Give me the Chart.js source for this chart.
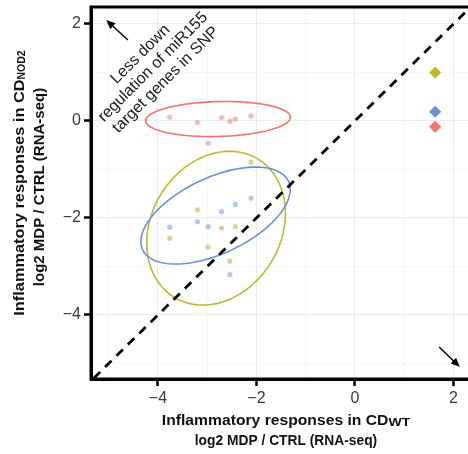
<!DOCTYPE html>
<html>
<head>
<meta charset="utf-8">
<script src="https://cdn.jsdelivr.net/npm/chart.js@4"></script>
<style>
  html, body { margin: 0; padding: 0; background: #fff; overflow: hidden; }
  #wrap { width: 490px; height: 454px; }
</style>
</head>
<body>
<div id="wrap"><canvas id="inflamChart" width="490" height="454"></canvas></div>
<script>
// log2 MDP / CTRL, one value per gene, WT on x and NOD2 on y
const geneX   = [-3.76, -3.20, -2.98, -2.71, -2.54, -2.43, -2.11];
const redY    = [0.08, -0.03, -0.46, 0.07, -0.01, 0.04, 0.10];
const greenY  = [-2.42, -1.83, -2.60, -2.21, -2.89, -2.18, -0.85];
const blueY   = [-2.19, -2.08, -2.18, -1.87, -3.17, -1.72, -1.59];

// group summary markers (diamonds)
const summaryX = [1.63, 1.63, 1.63];
const summaryY = [1.00, 0.19, -0.12];   // green, blue, red

// confidence ellipses: [centerX, centerY, semiMajor, semiMinor, angleDeg]
const redEllipse   = [-2.78, 0.04, 1.47, 0.36, 1.5];
const blueEllipse  = [-2.83, -1.95, 1.64, 0.78, 25.7];
const greenEllipse = [-2.82, -2.21, 1.66, 1.32, 60.8];

// identity line and the two direction arrows (from -> to)
const identityLine = [[-6, -6], [3, 3]];
const arrowUp   = [[-4.61, 1.67], [-5.05, 2.08]];
const arrowDown = [[1.71, -4.66], [2.13, -5.07]];

const noteLines = ["Less down", "regulation of miR155", "target genes in SNP"];
const noteAt = [-4.10, 1.11];

const xRange = [-5.36, 2.56];
const yRange = [-5.32, 2.35];

const RED = "#F0736D", GREEN = "#C0B82C", BLUE = "#6C8FD5";
const FONT = "'Liberation Sans', Arial, Helvetica, sans-serif";

const pts = (xs, ys) => xs.map((x, i) => ({ x: x, y: ys[i] }));

function drawEllipse(ctx, xs, ys, e, color) {
  const [cx, cy, a, b, deg] = e;
  const th = deg * Math.PI / 180;
  ctx.beginPath();
  for (let i = 0; i <= 120; i++) {
    const t = i / 120 * Math.PI * 2;
    const dx = a * Math.cos(t), dy = b * Math.sin(t);
    const x = cx + dx * Math.cos(th) - dy * Math.sin(th);
    const y = cy + dx * Math.sin(th) + dy * Math.cos(th);
    const px = xs.getPixelForValue(x), py = ys.getPixelForValue(y);
    if (i === 0) ctx.moveTo(px, py); else ctx.lineTo(px, py);
  }
  ctx.closePath();
  ctx.strokeStyle = color;
  ctx.lineWidth = 1.6;
  ctx.stroke();
}

function drawArrow(ctx, xs, ys, arr) {
  const x0 = xs.getPixelForValue(arr[0][0]), y0 = ys.getPixelForValue(arr[0][1]);
  const x1 = xs.getPixelForValue(arr[1][0]), y1 = ys.getPixelForValue(arr[1][1]);
  const ang = Math.atan2(y1 - y0, x1 - x0);
  const len = 9, half = 4;
  ctx.strokeStyle = "#000";
  ctx.fillStyle = "#000";
  ctx.lineWidth = 1.4;
  ctx.beginPath();
  ctx.moveTo(x0, y0);
  ctx.lineTo(x1 - Math.cos(ang) * len * 0.8, y1 - Math.sin(ang) * len * 0.8);
  ctx.stroke();
  ctx.beginPath();
  ctx.moveTo(x1, y1);
  ctx.lineTo(x1 - Math.cos(ang) * len - Math.sin(ang) * half, y1 - Math.sin(ang) * len + Math.cos(ang) * half);
  ctx.lineTo(x1 - Math.cos(ang) * len + Math.sin(ang) * half, y1 - Math.sin(ang) * len - Math.cos(ang) * half);
  ctx.closePath();
  ctx.fill();
}

// title pieces: [text, fontPx, baselineShift, horizontalStretch]
function drawRich(ctx, parts, x, y, rot) {
  ctx.save();
  ctx.translate(x, y);
  ctx.rotate(rot);
  ctx.fillStyle = "#111";
  ctx.textAlign = "left";
  ctx.textBaseline = "alphabetic";
  const widths = parts.map(p => {
    ctx.font = "bold " + p[1] + "px " + FONT;
    return ctx.measureText(p[0]).width * (p[3] || 1);
  });
  let cx = -widths.reduce((s, w) => s + w, 0) / 2;
  parts.forEach((p, i) => {
    ctx.save();
    ctx.font = "bold " + p[1] + "px " + FONT;
    ctx.translate(cx, p[2]);
    ctx.scale(p[3] || 1, 1);
    ctx.fillText(p[0], 0, 0);
    ctx.restore();
    cx += widths[i];
  });
  ctx.restore();
}

const extras = {
  id: "extras",
  beforeDatasetsDraw(chart) {
    const { ctx, scales: { x, y }, chartArea: ca } = chart;
    ctx.save();
    ctx.beginPath();
    ctx.rect(ca.left, ca.top, ca.width, ca.height);
    ctx.clip();
    drawEllipse(ctx, x, y, redEllipse, RED);
    drawEllipse(ctx, x, y, greenEllipse, GREEN);
    drawEllipse(ctx, x, y, blueEllipse, BLUE);
    ctx.restore();
  },
  afterDatasetsDraw(chart) {
    const { ctx, scales: { x, y }, chartArea: ca } = chart;
    ctx.save();
    drawArrow(ctx, x, y, arrowUp);
    drawArrow(ctx, x, y, arrowDown);

    // rotated note in the upper-left corner
    ctx.translate(x.getPixelForValue(noteAt[0]), y.getPixelForValue(noteAt[1]));
    ctx.rotate(-Math.PI / 4);
    ctx.font = "16px " + FONT;
    ctx.fillStyle = "#1a1a1a";
    ctx.textAlign = "center";
    ctx.textBaseline = "middle";
    noteLines.forEach((t, i) => ctx.fillText(t, 0, (i - 1) * 18));
    ctx.restore();

    // panel frame
    ctx.save();
    ctx.strokeStyle = "#000";
    ctx.lineWidth = 3;
    ctx.strokeRect(ca.left, ca.top, ca.width, ca.height);
    ctx.restore();

    // axis titles
    const mid = (ca.left + ca.right) / 2;
    drawRich(ctx, [["Inflammatory responses in CD", 14.4, 0, 1.09], ["WT", 10, 1, 1.4]], mid, 425, 0);
    drawRich(ctx, [["log2 MDP / CTRL (RNA-seq)", 13.8, 0]], mid, 445, 0);
    drawRich(ctx, [["Inflammatory responses in CD", 15, 0, 1.09], ["NOD2", 10.5, 1, 1]], 23.5, 183, -Math.PI / 2);
    drawRich(ctx, [["log2 MDP / CTRL (RNA-seq)", 15, 0]], 44, 187, -Math.PI / 2);
  }
};

const minus = v => (v < 0 ? "\u2212" + Math.abs(v) : String(v));

function axis(range, fit) {
  return {
    type: "linear",
    min: range[0],
    max: range[1],
    afterFit: s => {
      fit(s);
      s.paddingTop = s.paddingBottom = s.paddingLeft = s.paddingRight = 0;
    },
    ticks: {
      stepSize: 1,
      includeBounds: false,
      autoSkip: false,
      maxRotation: 0,
      padding: 3,
      color: "#3a3a3a",
      font: { family: FONT, size: 16 },
      callback: v => (Math.round(v) % 2 === 0 ? minus(Math.round(v)) : "")
    },
    grid: {
      color: c => (Math.round(c.tick.value) % 2 === 0 ? "#ebebeb" : "#f6f6f6"),
      lineWidth: 1,
      tickLength: 7,
      tickWidth: 2.5,
      tickColor: c => (Math.round(c.tick.value) % 2 === 0 ? "#000" : "rgba(0,0,0,0)")
    },
    border: { display: true, color: "#000", width: 3 }
  };
}

new Chart(document.getElementById("inflamChart"), {
  type: "scatter",
  data: {
    datasets: [
      {
        type: "line",
        data: identityLine.map(p => ({ x: p[0], y: p[1] })),
        showLine: true,
        borderColor: "#000",
        borderWidth: 2.8,
        borderDash: [9, 7],
        pointRadius: 0,
        fill: false
      },
      {
        data: pts(summaryX, summaryY),
        pointStyle: "rectRot",
        pointRadius: 6,
        borderWidth: 0,
        backgroundColor: [GREEN, BLUE, RED]
      },
      { data: pts(geneX, redY), pointRadius: 2.6, borderWidth: 0, backgroundColor: "rgba(240,115,109,0.5)" },
      { data: pts(geneX, greenY), pointRadius: 2.6, borderWidth: 0, backgroundColor: "rgba(170,172,60,0.5)" },
      { data: pts(geneX, blueY), pointRadius: 2.6, borderWidth: 0, backgroundColor: "rgba(108,143,213,0.5)" }
    ]
  },
  options: {
    responsive: false,
    animation: false,
    layout: { padding: { top: 7, right: 9, left: 0, bottom: 0 } },
    plugins: { legend: { display: false }, tooltip: { enabled: false } },
    scales: {
      x: axis(xRange, s => { s.height = 75; }),
      y: axis(yRange, s => { s.width = 91; })
    }
  },
  plugins: [extras]
});
</script>
</body>
</html>
